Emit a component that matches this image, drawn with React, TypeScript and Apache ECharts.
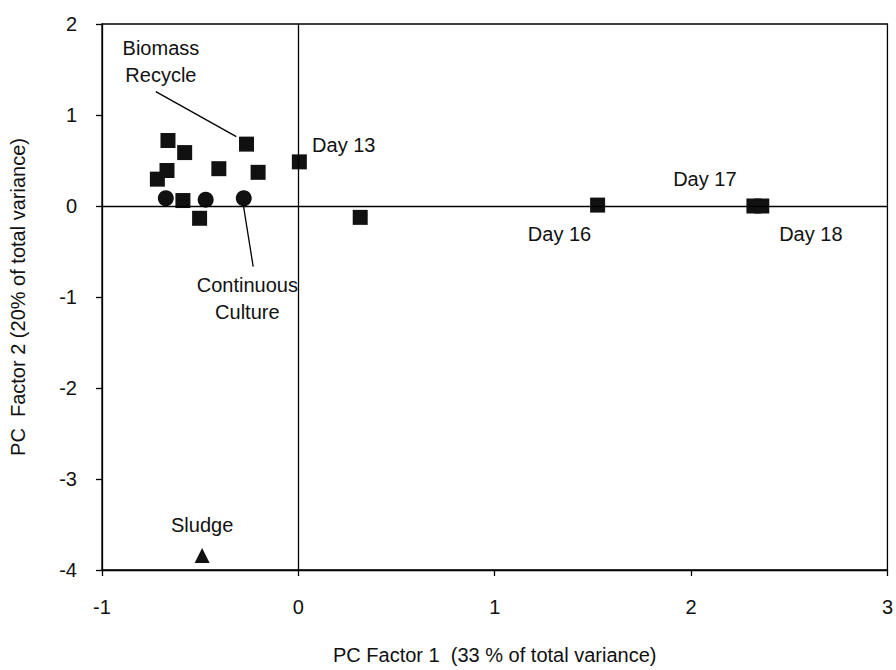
import React, { useEffect, useRef } from "react";
import * as echarts from "echarts";

// Biomass recycle samples (squares): [PC1, PC2]
const recycleX = [-0.664, -0.579, -0.669, -0.718, -0.405, -0.264, -0.205, 0.005, -0.588, -0.503, 0.315, 1.524, 2.32, 2.36];
const recycleY = [0.72, 0.587, 0.39, 0.295, 0.41, 0.68, 0.37, 0.485, 0.06, -0.135, -0.125, 0.01, 0.0, 0.0];

// Continuous culture samples (circles)
const continuousX = [-0.675, -0.472, -0.278];
const continuousY = [0.085, 0.07, 0.085];

// Sludge inoculum (triangle)
const sludgeX = [-0.49];
const sludgeY = [-3.84];

// Annotation texts and their anchor positions
const labelTexts = ["Biomass\nRecycle", "Continuous\nCulture", "Day 13", "Day 16", "Day 17", "Day 18", "Sludge"];
const labelX = [-0.70, -0.26, 0.07, 1.33, 2.07, 2.61, -0.49];
const labelY = [1.585, -1.02, 0.67, -0.31, 0.30, -0.31, -3.51];
const labelAlign = ["center", "center", "left", "center", "center", "center", "center"];

// Leader lines from group labels to points
const biomassLeaderX = [-0.726, -0.316];
const biomassLeaderY = [1.257, 0.762];
const continuousLeaderX = [-0.281, -0.23];
const continuousLeaderY = [0.02, -0.667];

const xTicks = { min: -1, max: 3, interval: 1 };
const yTicks = { min: -4, max: 2, interval: 1 };

const FONT = "'Liberation Sans', Arial, sans-serif";
const INK = "#111";
const zip = (a: number[], b: number[]) => a.map((v, i) => [v, b[i]]);

export default function App() {
  const ref = useRef<HTMLDivElement>(null);

  useEffect(() => {
    if (!ref.current) return;
    const chart = echarts.init(ref.current, undefined, { renderer: "svg" });
    const axisCommon = {
      type: "value" as const,
      axisLine: { show: true, onZero: false, lineStyle: { color: "#000", width: 1.3 } },
      axisTick: { show: true, inside: false, length: 6, lineStyle: { color: "#000", width: 1.3 } },
      axisLabel: { color: INK, fontSize: 20, fontFamily: FONT },
      splitLine: { show: false },
      nameTextStyle: { color: INK, fontSize: 20, fontFamily: FONT },
    };
    const marker = { color: INK, opacity: 1 };
    chart.setOption({
      animation: false,
      backgroundColor: "#fff",
      grid: {
        left: 101,
        right: 6,
        top: 24,
        bottom: 97,
        show: true,
        borderColor: "#000",
        borderWidth: 1.3,
        backgroundColor: "transparent",
      },
      xAxis: {
        ...axisCommon,
        ...xTicks,
        name: "PC Factor 1  (33 % of total variance)",
        nameLocation: "middle",
        nameGap: 75,
        axisLabel: { ...axisCommon.axisLabel, margin: 27 },
      },
      yAxis: {
        ...axisCommon,
        ...yTicks,
        name: "PC  Factor 2 (20% of total variance)",
        nameLocation: "middle",
        nameGap: 74,
        axisLabel: { ...axisCommon.axisLabel, margin: 25 },
      },
      series: [
        {
          type: "line",
          data: zip(biomassLeaderX, biomassLeaderY),
          symbol: "none",
          lineStyle: { color: "#000", width: 1.3 },
          z: 1,
        },
        {
          type: "line",
          data: zip(continuousLeaderX, continuousLeaderY),
          symbol: "none",
          lineStyle: { color: "#000", width: 1.3 },
          z: 1,
        },
        {
          type: "scatter",
          name: "Biomass Recycle",
          data: zip(recycleX, recycleY),
          symbol: "rect",
          symbolSize: 15,
          itemStyle: marker,
          z: 3,
          markLine: {
            silent: true,
            symbol: "none",
            label: { show: false },
            lineStyle: { color: "#000", width: 1.3, type: "solid" },
            data: [{ xAxis: 0 }, { yAxis: 0 }],
          },
        },
        {
          type: "scatter",
          name: "Continuous Culture",
          data: zip(continuousX, continuousY),
          symbol: "circle",
          symbolSize: 16,
          itemStyle: marker,
          z: 3,
        },
        {
          type: "scatter",
          name: "Sludge",
          data: zip(sludgeX, sludgeY),
          symbol: "triangle",
          symbolSize: 15,
          itemStyle: marker,
          z: 3,
        },
        {
          type: "scatter",
          name: "labels",
          symbolSize: 0,
          silent: true,
          itemStyle: { opacity: 1 },
          data: labelTexts.map((t, i) => ({
            value: [labelX[i], labelY[i]],
            label: {
              show: true,
              position: "inside",
              formatter: t,
              align: labelAlign[i],
              verticalAlign: "middle",
              color: INK,
              fontSize: 20,
              fontFamily: FONT,
              lineHeight: 27,
            },
          })),
          z: 4,
        },
      ],
    });
    return () => chart.dispose();
  }, []);

  return (
    <div
      ref={ref}
      style={{ position: "absolute", left: 0, top: 0, width: 896, height: 670 }}
    />
  );
}
